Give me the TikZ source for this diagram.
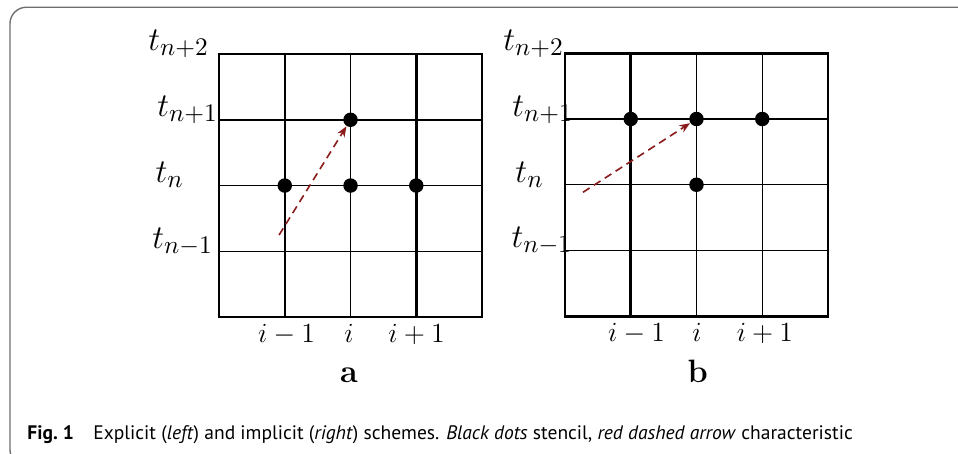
\documentclass[tikz,border=0pt]{standalone}
\usepackage{fontspec}
\usepackage{tikz}
\usetikzlibrary{arrows.meta}
\newfontfamily\capfont{PT Sans}
\definecolor{framegray}{HTML}{6E6E6E}
\definecolor{charred}{HTML}{8B1C1C}

\tikzset{
  thinline/.style={line width=0.5pt},
  thickline/.style={line width=1.1pt},
  stencil/.style={circle,fill=black,inner sep=0pt,minimum size=0.22cm},
  tlab/.style={anchor=base west,inner sep=0pt,font=\fontsize{15.4}{18}\selectfont},
  ilab/.style={anchor=base,inner sep=0pt,font=\fontsize{11.9}{14}\selectfont},
  panellab/.style={anchor=base,inner sep=0pt,font=\fontsize{14}{16}\selectfont\bfseries},
  charline/.style={charred,line width=0.7pt,dash pattern=on 3.4pt off 2.2pt,
                   -{Stealth[length=4.6pt,width=3.6pt]}}
}

\begin{document}
\begin{tikzpicture}[x=1cm,y=1cm]
\useasboundingbox (0,0) rectangle (14.57,6.89);

% frame round the figure
\draw[framegray,line width=0.6pt,rounded corners=0.25cm] (0.152,-0.2) rectangle (15.2,6.78);

% (a) explicit
\begin{scope}[shift={(3.331,2.068)}]
  \draw[thinline] (0,1) -- (4,1) (0,2) -- (4,2) (2,0) -- (2,4);
  \draw[thickline] (1,0) -- (1,4) (3,0) -- (3,4) (0,3) -- (4,3);
  \draw[thickline] (0,0) rectangle (4,4);
  \foreach \j/\s/\x in {4/n+2/-1.08,3/n+1/-0.943,2/n/-0.973,1/n-1/-1.02}
    \node[tlab] (a-t\j) at (\x,\j+0.05) {$t_{\s}$};
  \foreach \k/\s/\x in {1/i-1/1.027,2/i/1.977,3/i+1/3.004}
    \node[ilab] (a-x\k) at (\x,-0.38) {$\s$};
  \node[panellab] (a-lab) at (1.977,-1.0) {a};
  \node[stencil] (a-up) at (2,3) {};
  \node[stencil] (a-left) at (1,2) {};
  \node[stencil] (a-mid) at (2,2) {};
  \node[stencil] (a-right) at (3,2) {};
  \coordinate (a-foot) at (0.913,1.247);
  \draw[charline] (a-foot) -- (a-up);
\end{scope}

% (b) implicit
\begin{scope}[shift={(8.593,2.08)}]
  \draw[thinline] (0,1) -- (4,1) (0,2) -- (4,2) (0,3) -- (4,3)
                  (2,0) -- (2,4) (3,0) -- (3,4);
  \draw[thickline] (1,0) -- (1,4);
  \draw[thickline] (0,0) rectangle (4,4);
  \foreach \j/\s/\x in {4/n+2/-0.943,3/n+1/-0.806,2/n/-0.76,1/n-1/-0.82}
    \node[tlab] (b-t\j) at (\x,\j+0.04) {$t_{\s}$};
  \foreach \k/\s/\x in {1/i-1/1.087,2/i/2.008,3/i+1/3.04}
    \node[ilab] (b-x\k) at (\x,-0.38) {$\s$};
  \node[panellab] (b-lab) at (2.02,-1.0) {b};
  \node[stencil] (b-left) at (1,3) {};
  \node[stencil] (b-up) at (2,3) {};
  \node[stencil] (b-right) at (3,3) {};
  \node[stencil] (b-mid) at (2,2) {};
  \coordinate (b-foot) at (0.274,1.886);
  \draw[charline] (b-foot) -- (b-up);
\end{scope}

\node[anchor=base west,inner sep=0pt,font=\capfont\fontsize{8.45}{10}\selectfont]
  (caption) at (0.41,0.213)
  {\textbf{Fig.~1}\quad Explicit (\textit{left}) and implicit (\textit{right}) schemes.
   \textit{Black dots} stencil, \textit{red dashed arrow} characteristic};

\end{tikzpicture}
\end{document}
